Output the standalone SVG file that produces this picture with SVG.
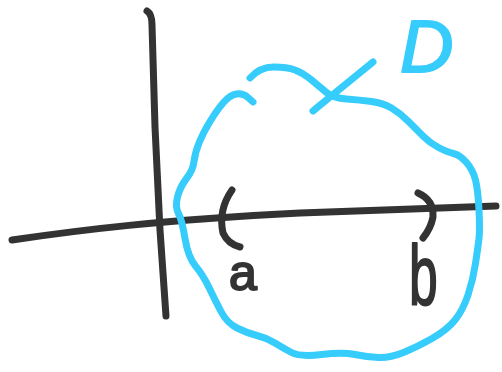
<svg xmlns="http://www.w3.org/2000/svg" width="502" height="372" viewBox="0 0 502 372">
<style>
.ink{fill:none;stroke:#333333;stroke-width:7;stroke-linecap:round;stroke-linejoin:round}
.blue{fill:none;stroke:#36ccfc;stroke-width:7;stroke-linecap:round;stroke-linejoin:round}
.lbl{font-family:"Liberation Sans",Arial,sans-serif;fill:#333333;stroke:#333333;stroke-width:2;stroke-linejoin:round}
.lblD{font-family:"Liberation Sans",Arial,sans-serif;fill:#36ccfc;stroke:#36ccfc;stroke-width:2;stroke-linejoin:round}
</style>
<rect width="502" height="372" fill="#ffffff"/>
<g id="axes">
<path class="ink" d="M147,11 Q152,14 152,25 L155,127 L160,230 L166,316"/>
<path class="ink" d="M12,240 C80,230 160,220 300,213 L496,206"/>
</g>
<g id="region-D">
<path class="blue" d="M250,78 Q260,67 273.5,67 Q287,67 295,70 Q303,73 311.5,80 Q320,87 326.5,92.5 Q333,98 346.5,99 Q360,100 371.5,101.5 Q383,103 391.5,108 Q400,113 408.5,121.5 Q417,130 423.5,136.5 Q430,143 438.5,147.5 Q447,152 453.5,153.5 Q460,155 466.5,162.5 Q473,170 475.5,180 Q478,190 479,210 Q480,230 479,238.5 Q478,247 475.5,263.5 Q473,280 468,295 Q463,310 455,320 Q447,330 432,338.5 Q417,347 403.5,352.5 Q390,358 378.5,357.5 Q367,357 355,354.5 Q343,352 321.5,354.5 Q300,357 291.5,352.5 Q283,348 275,343 Q267,338 257,335.5 Q247,333 237,328 Q227,323 221,311.5 Q215,300 209,287.5 Q203,275 195.5,266 Q188,257 185,238.5 Q182,220 178.5,213.5 Q175,207 177.5,197 Q180,187 186.5,178.5 Q193,170 194,161.5 Q195,153 199,143 Q203,133 210,121.5 Q217,110 223.5,102.5 Q230,95 236.5,94 Q243,93 248,97.5 L253,102"/>
<path class="blue" d="M373,62 L330,97 Q319,106 313,111"/>
<text class="lblD" x="400" y="72" font-size="74" font-style="italic">D</text>
</g>
<g id="point-a">
<path class="ink" d="M232,190 Q218,210 223,233 Q228,244 240,247"/>
<text class="lbl" x="229" y="290" font-size="50">a</text>
</g>
<g id="point-b">
<path class="ink" d="M418,193 Q434,200 433,217 Q431,228 423,238"/>
<text class="lbl" transform="translate(409,305) scale(0.6,1)" x="0" y="0" font-size="86">b</text>
</g>
</svg>
